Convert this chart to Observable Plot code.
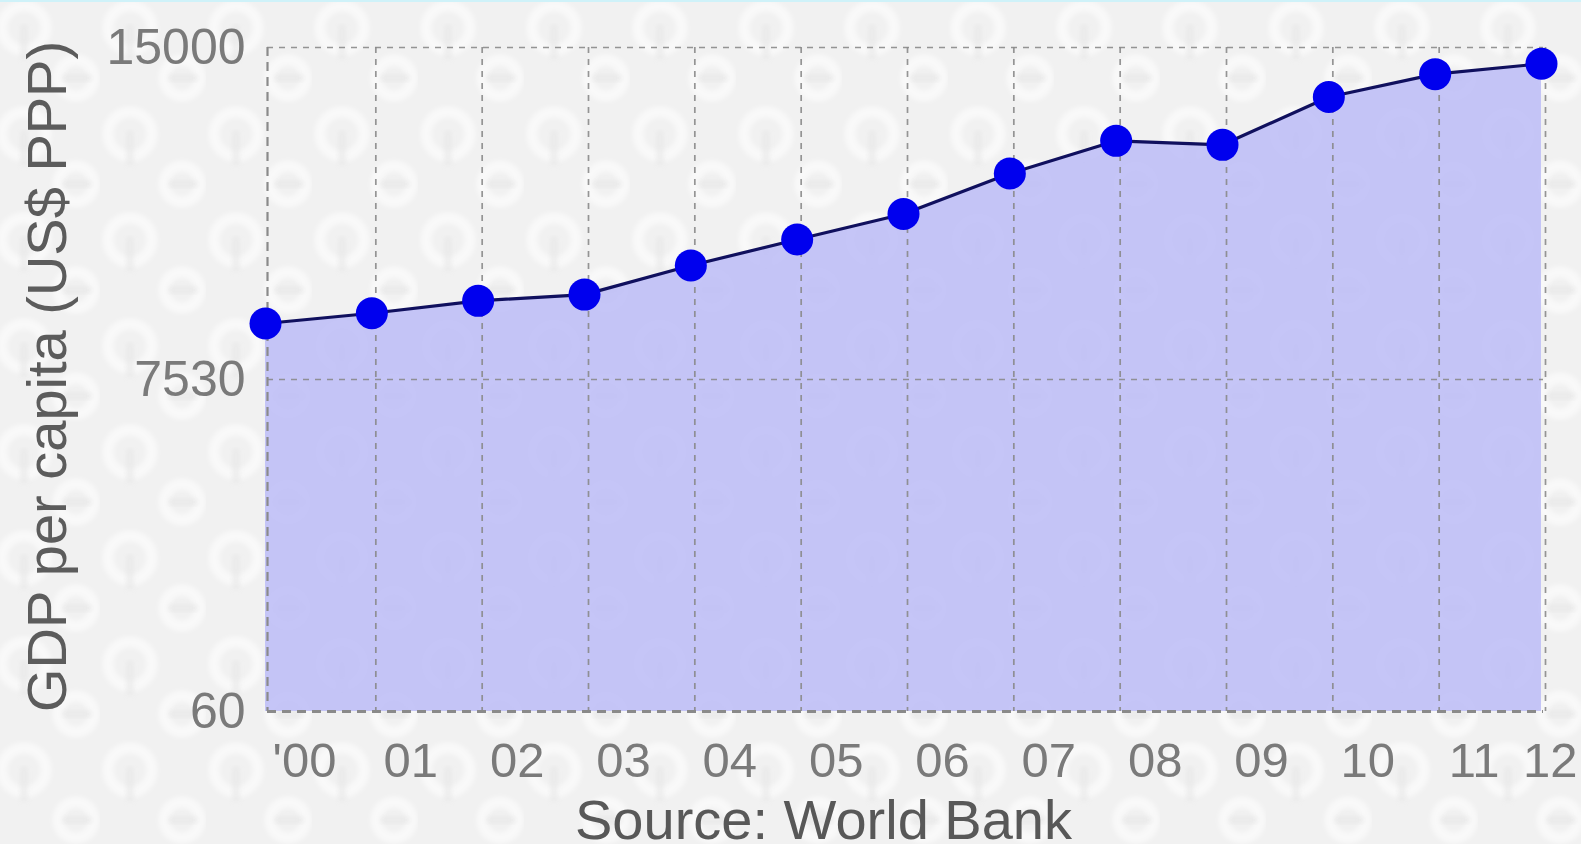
<!DOCTYPE html>
<html>
<head>
<meta charset="utf-8">
<script src="https://cdn.jsdelivr.net/npm/d3@7"></script>
<script src="https://cdn.jsdelivr.net/npm/@observablehq/plot@0.6"></script>
<style>
  html, body { margin: 0; padding: 0; overflow: hidden; }
  #chart {
    width: 1581px; height: 844px; position: relative;
    background-color: #f1f1f1;
    background-image: url("data:image/svg+xml,%3Csvg xmlns='http://www.w3.org/2000/svg' width='106' height='106'%3E%3Cdefs%3E%3Cfilter id='b'%3E%3CfeGaussianBlur stdDeviation='2'/%3E%3C/filter%3E%3C/defs%3E%3Cg filter='url(%23b)' fill='none' stroke='%23ffffff' stroke-opacity='0.55' stroke-width='11'%3E%3Ccircle cx='30' cy='30' r='22'/%3E%3Ccircle cx='82' cy='80' r='18'/%3E%3C/g%3E%3Cg filter='url(%23b)' stroke='%23e6e6e6' stroke-opacity='0.5' stroke-width='8' stroke-linecap='round'%3E%3Cpath d='M30 30V58'/%3E%3Cpath d='M72 80H94'/%3E%3C/g%3E%3C/svg%3E");
    background-position: -6px -2px;
  }
  #chart::before {
    content: ""; position: absolute; left: 0; top: 0; right: 0; height: 2px;
    background: #cff2f9;
  }
  #chart svg { display: block; position: relative; }
</style>
</head>
<body>
<div id="chart"></div>
<script>
// GDP per capita, PPP (current US$), 2000–2012
const years = [2000, 2001, 2002, 2003, 2004, 2005, 2006, 2007, 2008, 2009, 2010, 2011, 2012];
const gdp = [8790, 9020, 9300, 9440, 10095, 10680, 11255, 12165, 12900, 12810, 13885, 14400, 14635];
const yearLabels = ["'00", "01", "02", "03", "04", "05", "06", "07", "08", "09", "10", "11", "12"];
const yTicks = [60, 7530, 15000];
const yTitle = "GDP per capita (US$ PPP)";
const source = "Source: World Bank";

const data = years.map((year, i) => ({year, value: gdp[i], label: yearLabels[i]}));
const lastYear = years[years.length - 1];

const font = "'Liberation Sans', Arial, sans-serif";
const gridStyle = {stroke: "#8a8a8a", strokeWidth: 1.7, strokeDasharray: "6,6", strokeOpacity: 0.9};

const chart = Plot.plot({
  width: 1581,
  height: 844,
  marginLeft: 265,
  marginRight: 40,
  marginTop: 47,
  marginBottom: 133,
  style: {background: "transparent", fontFamily: font, overflow: "visible"},
  x: {domain: [years[0], lastYear], axis: null},
  y: {domain: [yTicks[0], yTicks[yTicks.length - 1]], axis: null},
  marks: [
    // filled area under the series (lets the backdrop show through faintly)
    Plot.areaY(data, {x: "year", y1: yTicks[0], y2: "value", fill: "#bfbff6", fillOpacity: 0.9, curve: "linear"}),
    // dashed grid
    Plot.ruleY(yTicks.slice(1), {...gridStyle, dx: 2}),
    Plot.ruleX(years.slice(1), {...gridStyle, dx: 4}),
    // frame edges: left and bottom heavier
    Plot.ruleX([years[0]], {stroke: "#8a8a8a", strokeWidth: 2.2, strokeDasharray: "9,6", dx: 2}),
    Plot.ruleY([yTicks[0]], {stroke: "#8a8a8a", strokeWidth: 3, strokeDasharray: "9,6", dx: 2}),
    // series
    Plot.line(data, {x: "year", y: "value", stroke: "#10105e", strokeWidth: 3.2}),
    Plot.dot(data, {x: "year", y: "value", r: 16, fill: "#0000ee", stroke: "none"}),
    // y tick labels
    Plot.text(yTicks, {y: d => d, text: d => String(d), frameAnchor: "left", dx: -20, textAnchor: "end",
      fontSize: 50, fill: "#7a7a7a", fontFamily: font}),
    // x tick labels
    Plot.text(data.filter(d => d.year !== lastYear), {x: "year", text: "label", frameAnchor: "bottom",
      lineAnchor: "top", dy: 31, dx: 39, textAnchor: "middle", fontSize: 49, fill: "#7a7a7a", fontFamily: font}),
    Plot.text(data.filter(d => d.year === lastYear), {x: "year", text: "label", frameAnchor: "bottom",
      lineAnchor: "top", dy: 31, dx: 36, textAnchor: "end", fontSize: 49, fill: "#7a7a7a", fontFamily: font}),
    // axis title
    Plot.text([yTitle], {frameAnchor: "left", dx: -217, dy: -3, rotate: -90, textAnchor: "middle",
      fontSize: 56, fill: "#5c5c5c", fontFamily: font}),
    // source line, sitting against the bottom edge
    Plot.text([source], {frameAnchor: "bottom", lineAnchor: "top", dy: 88, dx: -80, textAnchor: "middle",
      fontSize: 56, fill: "#585858", fontFamily: font})
  ]
});

document.getElementById("chart").appendChild(chart);
</script>
</body>
</html>
